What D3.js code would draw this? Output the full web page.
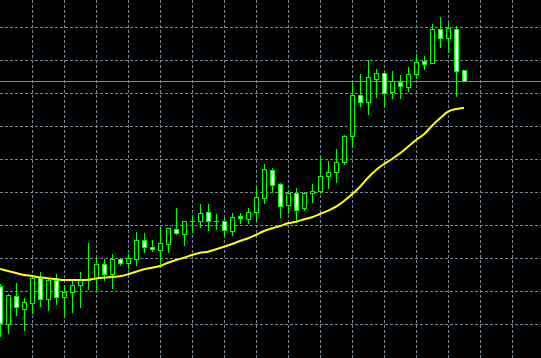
<!DOCTYPE html>
<html>
<head>
<meta charset="utf-8">
<script src="https://cdnjs.cloudflare.com/ajax/libs/d3/7.8.5/d3.min.js"></script>
<style>
html,body{margin:0;padding:0;background:#000;overflow:hidden;}
svg{display:block;}
</style>
</head>
<body>
<svg id="chart" width="541" height="358"></svg>
<script>
// ---- data (prices) ----
const opens  = [1.3341,1.3303,1.3331,1.3318,1.3324,1.3349,1.3328,1.3347,1.3330,1.3335,1.3342,1.3347,1.3349,1.3363,1.3353,1.3368,1.3364,1.3368,1.3387,1.3380,1.3377,1.3383,1.3398,1.3393,1.3406,1.3406,1.3415,1.3406,1.3406,1.3396,1.3411,1.3408,1.3415,1.3429,1.3457,1.3443,1.3422,1.3434,1.3419,1.3434,1.3436,1.3451,1.3455,1.3465,1.3491,1.3532,1.3525,1.3548,1.3554,1.3535,1.3545,1.3540,1.3553,1.35665,1.3564,1.3598,1.3589,1.3598,1.3557];
const highs  = [1.3343,1.3333,1.3344,1.3329,1.3350,1.3355,1.3348,1.3353,1.3341,1.3347,1.3355,1.3384,1.3369,1.3368,1.3373,1.3369,1.3373,1.3395,1.3394,1.3387,1.3400,1.3399,1.3419,1.3406,1.3412,1.3423,1.3423,1.3413,1.3410,1.3414,1.3414,1.3419,1.3440,1.3463,1.3459,1.3444,1.3437,1.3439,1.3435,1.3443,1.3470,1.3466,1.3478,1.3492,1.3544,1.3553,1.3567,1.3558,1.3555,1.3556,1.3552,1.3560,1.3573,1.3571,1.3603,1.3610,1.3604,1.3601,1.3557];
const lows   = [1.3291,1.3294,1.3312,1.3297,1.3314,1.3321,1.3317,1.3323,1.3310,1.3315,1.3320,1.3338,1.3337,1.3347,1.3339,1.3362,1.3359,1.3362,1.3375,1.3376,1.3360,1.3375,1.3393,1.3382,1.3395,1.3400,1.3397,1.3398,1.3391,1.3392,1.3404,1.3404,1.3406,1.3424,1.3435,1.3410,1.3414,1.3405,1.3417,1.3425,1.3434,1.3439,1.3445,1.3463,1.3480,1.3521,1.3513,1.3530,1.3521,1.3529,1.3529,1.3536,1.3549,1.3558,1.3564,1.3580,1.3575,1.3531,1.35457];
const closes = [1.3304,1.3332,1.3320,1.3325,1.3349,1.3328,1.3347,1.3330,1.3335,1.3342,1.3347,1.3347,1.3363,1.3353,1.3368,1.3364,1.3369,1.3387,1.3380,1.3378,1.3384,1.3399,1.3394,1.3406,1.3406,1.3414,1.3406,1.3406,1.3397,1.3410,1.3409,1.3415,1.3430,1.3458,1.3442,1.3421,1.3434,1.3417,1.3434,1.3436,1.3451,1.3455,1.3465,1.3491,1.3532,1.3525,1.3550,1.3554,1.3534,1.3546,1.3541,1.3553,1.3565,1.35635,1.3598,1.3589,1.3599,1.3556,1.35457];
const maValues = [1.3358,1.3356,1.3354,1.3352,1.3351,1.33497,1.33487,1.3348,1.3347,1.3347,1.3347,1.33473,1.33485,1.33493,1.3350,1.33507,1.33527,1.33553,1.33577,1.33593,1.3361,1.33643,1.3367,1.33693,1.3372,1.33743,1.33753,1.33777,1.33803,1.3383,1.3386,1.33887,1.3392,1.3396,1.33987,1.3401,1.34037,1.34053,1.34077,1.34097,1.3413,1.34163,1.34203,1.3426,1.34327,1.34403,1.34493,1.3457,1.3463,1.3468,1.34737,1.34803,1.3487,1.34927,1.35013,1.35087,1.35153,1.3518,1.35193];
const gridPrices = [1.3600,1.3567,1.3534,1.3501,1.3468,1.3435,1.3402,1.3369,1.3336,1.3303];
const gridBars = [4,8,12,16,20,24,28,32,36,40,44,48,52,56,60,64];
const bidPrice = 1.35457;

// ---- scales ----
const W = 541, H = 358;
const x = d3.scaleLinear().domain([0, 1]).range([0, 8]);
const y = d3.scaleLinear().domain([1.3627, 1.3269]).range([0, 358]);
const px = v => Math.round(v) + 0.5;

const svg = d3.select("#chart");
svg.append("rect").attr("width", W).attr("height", H).attr("fill", "#000");

const gridColor = "#778899";
const g = svg.append("g").attr("shape-rendering", "crispEdges");

// horizontal grid
g.selectAll("line.hg").data(gridPrices).join("line")
  .attr("x1", 0).attr("x2", W)
  .attr("y1", d => px(y(d))).attr("y2", d => px(y(d)))
  .attr("stroke", gridColor).attr("stroke-width", 1).attr("stroke-dasharray", "3,2");

// vertical grid
g.selectAll("line.vg").data(gridBars).join("line")
  .attr("x1", d => px(x(d))).attr("x2", d => px(x(d)))
  .attr("y1", 0).attr("y2", H)
  .attr("stroke", gridColor).attr("stroke-width", 1).attr("stroke-dasharray", "3,2");

// bid line
g.append("line")
  .attr("x1", 0).attr("x2", W)
  .attr("y1", px(y(bidPrice))).attr("y2", px(y(bidPrice)))
  .attr("stroke", gridColor).attr("stroke-width", 1);

// candles
const candles = opens.map((o, i) => ({i, o, h: highs[i], l: lows[i], c: closes[i]}));
const cg = svg.append("g").attr("shape-rendering", "crispEdges");
const green = "#00ff00";

cg.selectAll("line.wick").data(candles).join("line")
  .attr("x1", d => px(x(d.i))).attr("x2", d => px(x(d.i)))
  .attr("y1", d => Math.round(y(d.h))).attr("y2", d => Math.round(y(d.l)) + 1)
  .attr("stroke", green).attr("stroke-width", 1);

candles.forEach(d => {
  const top = Math.round(y(Math.max(d.o, d.c)));
  const bot = Math.round(y(Math.min(d.o, d.c)));
  const cx = Math.round(x(d.i));
  if (bot - top < 1) {
    cg.append("line")
      .attr("x1", cx - 2).attr("x2", cx + 3)
      .attr("y1", top + 0.5).attr("y2", top + 0.5)
      .attr("stroke", green).attr("stroke-width", 1);
  } else {
    cg.append("rect")
      .attr("x", cx - 2 + 0.5).attr("y", top + 0.5)
      .attr("width", 4).attr("height", bot - top)
      .attr("fill", d.c >= d.o ? "#000" : "#fff")
      .attr("stroke", green).attr("stroke-width", 1);
  }
});

// moving average
const line = d3.line().x((d, i) => x(i)).y(d => y(d)).curve(d3.curveMonotoneX);
svg.append("path").datum(maValues)
  .attr("d", line)
  .attr("fill", "none").attr("stroke", "#ffff00").attr("stroke-width", 2);
</script>
</body>
</html>
